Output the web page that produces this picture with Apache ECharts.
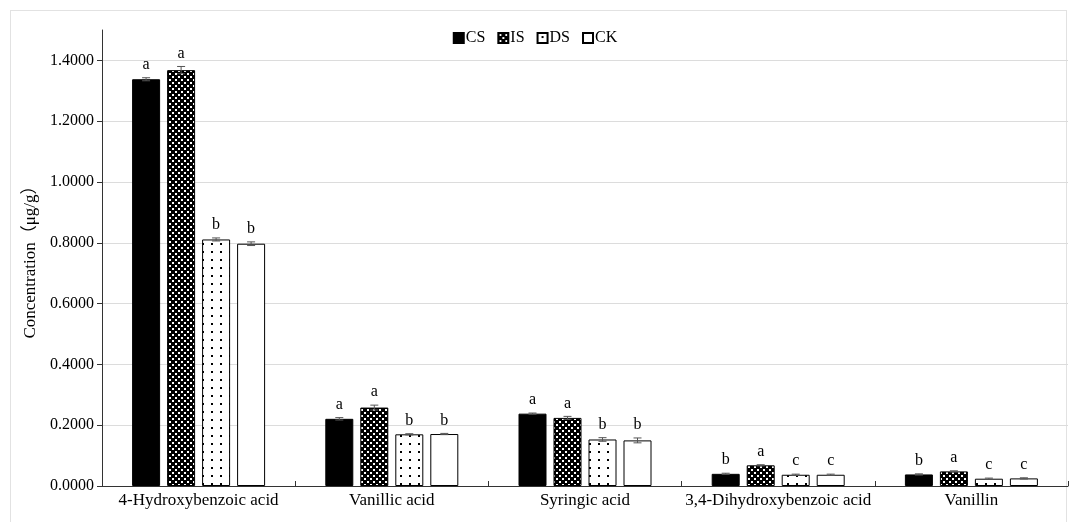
<!DOCTYPE html>
<html>
<head>
<meta charset="utf-8">
<script src="https://cdn.jsdelivr.net/npm/echarts@6/dist/echarts.min.js"></script>
<style>
html,body{margin:0;padding:0;background:#fff;}
#frame{position:absolute;left:10px;top:10px;width:1057px;height:520px;border:1px solid #e2e2e2;box-sizing:border-box;}
#chart{position:absolute;left:0;top:0;width:1070px;height:522px;}
</style>
</head>
<body>
<div id="frame"></div>
<div id="chart"></div>
<script>
const categories = ['4-Hydroxybenzoic acid', 'Vanillic acid', 'Syringic acid', '3,4-Dihydroxybenzoic acid', 'Vanillin'];
const seriesNames = ['CS', 'IS', 'DS', 'CK'];
const csValues = [1.338, 0.221, 0.238, 0.040, 0.038];
const isValues = [1.368, 0.258, 0.224, 0.068, 0.048];
const dsValues = [0.811, 0.170, 0.153, 0.037, 0.024];
const ckValues = [0.797, 0.171, 0.150, 0.037, 0.025];
const csErrors = [0.005, 0.004, 0.002, 0.002, 0.002];
const isErrors = [0.012, 0.008, 0.005, 0.002, 0.002];
const dsErrors = [0.005, 0.002, 0.006, 0.002, 0.002];
const ckErrors = [0.006, 0.002, 0.008, 0.002, 0.002];
const csLetters = ['a', 'a', 'a', 'b', 'b'];
const isLetters = ['a', 'a', 'a', 'a', 'a'];
const dsLetters = ['b', 'b', 'b', 'c', 'c'];
const ckLetters = ['b', 'b', 'b', 'c', 'c'];
const yTickLabels = [0, 0.2, 0.4, 0.6, 0.8, 1.0, 1.2, 1.4];

const FONT = '"Liberation Serif", "Times New Roman", "Noto Sans CJK SC", serif';

function makeCrossPattern() {
  const c = document.createElement('canvas');
  c.width = 6; c.height = 6;
  const g = c.getContext('2d');
  g.fillStyle = '#000'; g.fillRect(0, 0, 6, 6);
  g.fillStyle = '#fff';
  g.fillRect(1, 1, 2, 2);
  g.fillRect(4, 4, 2, 2);
  return c;
}
function makeDotPattern() {
  const c = document.createElement('canvas');
  c.width = 9; c.height = 8;
  const g = c.getContext('2d');
  g.fillStyle = '#fff'; g.fillRect(0, 0, 9, 8);
  g.fillStyle = '#000';
  g.fillRect(4, 3, 2, 2);
  return c;
}

const valuesAll = [csValues, isValues, dsValues, ckValues];
const errorsAll = [csErrors, isErrors, dsErrors, ckErrors];
const lettersAll = [csLetters, isLetters, dsLetters, ckLetters];
const fills = ['#000', { image: makeCrossPattern(), repeat: 'repeat' }, { image: makeDotPattern(), repeat: 'repeat' }, '#fff'];

const BAR_W = 28;
const BAR_STEP = 35;

const errData = [];
const errLetters = [];
for (let s = 0; s < 4; s++) {
  for (let i = 0; i < categories.length; i++) {
    errData.push([i, valuesAll[s][i], errorsAll[s][i], s]);
    errLetters.push(lettersAll[s][i]);
  }
}

const barSeries = seriesNames.map((name, s) => ({
  name: name,
  type: 'bar',
  data: valuesAll[s],
  barWidth: BAR_W,
  barGap: '25%',
  itemStyle: { color: fills[s], borderColor: '#000', borderWidth: 1 },
  emphasis: { disabled: true },
  z: 2
}));

const chart = echarts.init(document.getElementById('chart'), null, { renderer: 'canvas' });
chart.setOption({
  backgroundColor: 'transparent',
  animation: false,
  textStyle: { fontFamily: FONT },
  legend: {
    data: seriesNames,
    top: 25,
    left: 'center',
    itemWidth: 10,
    itemHeight: 10,
    itemGap: 12,
    icon: 'rect',
    textStyle: { fontFamily: FONT, fontSize: 16, color: '#000', padding: [0, 0, 0, -3] }
  },
  grid: { left: 102, right: 2, top: 30, bottom: 36, containLabel: false },
  xAxis: {
    type: 'category',
    data: categories,
    axisLine: { lineStyle: { color: '#333', width: 1 } },
    axisTick: { show: true, inside: true, length: 5, alignWithLabel: false, lineStyle: { color: '#333' } },
    axisLabel: { fontFamily: FONT, fontSize: 17, color: '#000', margin: 6, interval: 0 },
    splitLine: { show: false }
  },
  yAxis: {
    type: 'value',
    min: 0,
    max: 1.5,
    interval: 0.2,
    name: 'Concentration（μg/g）',
    nameLocation: 'middle',
    nameGap: 61,
    nameTextStyle: { fontFamily: FONT, fontSize: 17, color: '#000' },
    axisLine: { show: true, lineStyle: { color: '#333', width: 1 } },
    axisTick: { show: true, inside: false, length: 5, lineStyle: { color: '#333' }, customValues: yTickLabels },
    axisLabel: {
      fontFamily: FONT, fontSize: 16, color: '#000', margin: 8,
      customValues: yTickLabels,
      formatter: function (v) { return v > 1.45 ? '' : v.toFixed(4); }
    },
    splitLine: { show: true, lineStyle: { color: ['#dcdcdc', '#dcdcdc', '#dcdcdc', '#dcdcdc', '#dcdcdc', '#dcdcdc', '#dcdcdc', '#dcdcdc', 'rgba(0,0,0,0)'], width: 1 } }
  },
  series: barSeries.concat([{
    type: 'custom',
    name: 'err',
    coordinateSystem: 'cartesian2d',
    data: errData,
    encode: { x: 0, y: 1 },
    z: 5,
    clip: false,
    silent: true,
    renderItem: function (params, api) {
      const cat = api.value(0);
      const v = api.value(1);
      const e = api.value(2);
      const s = api.value(3);
      const top = api.coord([cat, v + e]);
      const bot = api.coord([cat, v - e]);
      const x = top[0] + (s - 1.5) * BAR_STEP;
      const cap = 4;
      const stroke = { stroke: '#555', lineWidth: 1 };
      return {
        type: 'group',
        children: [
          { type: 'line', shape: { x1: x, y1: top[1], x2: x, y2: bot[1] }, style: stroke },
          { type: 'line', shape: { x1: x - cap, y1: top[1], x2: x + cap, y2: top[1] }, style: stroke },
          { type: 'line', shape: { x1: x - cap, y1: bot[1], x2: x + cap, y2: bot[1] }, style: stroke },
          { type: 'text', x: x, y: top[1] - 5, style: { text: errLetters[params.dataIndex], align: 'center', verticalAlign: 'bottom', font: '16px ' + FONT, fill: '#000' } }
        ]
      };
    }
  }])
});
</script>
</body>
</html>
